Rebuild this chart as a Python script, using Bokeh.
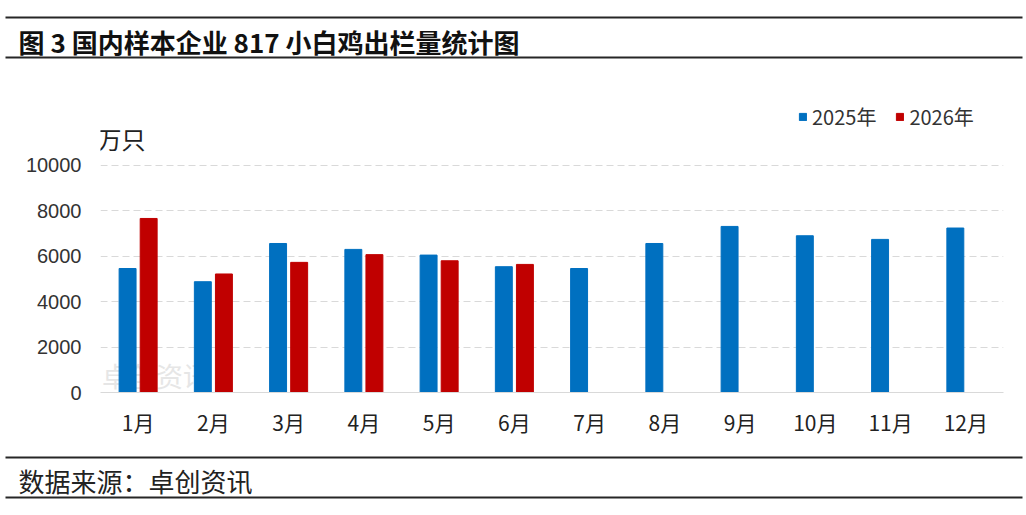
from bokeh.plotting import figure
from bokeh.models import ColumnDataSource, FactorRange, Range1d, FixedTicker, Legend, LegendItem, Label
from bokeh.transform import dodge
from bokeh.layouts import column
from bokeh.embed import file_html
from bokeh.resources import INLINE
from bokeh.core.properties import value

# ---------------- data ----------------
months = ["1月", "2月", "3月", "4月", "5月", "6月", "7月", "8月", "9月", "10月", "11月", "12月"]
sales_2025 = [5450, 4870, 6550, 6290, 6040, 5530, 5450, 6550, 7300, 6890, 6730, 7230]
months_2026 = ["1月", "2月", "3月", "4月", "5月", "6月"]
sales_2026 = [7650, 5210, 5720, 6060, 5790, 5630]
y_ticks = [0, 2000, 4000, 6000, 8000, 10000]
series_names = ["2025年", "2026年"]
unit_label = "万只"
title_text = "图 3 国内样本企业 817 小白鸡出栏量统计图"
source_text = "数据来源：卓创资讯"

# ---------------- styling ----------------
W = 1026
CJK = "Noto Sans CJK SC"
BLUE = "#0070C0"
RED = "#C00000"
RULE = "#262626"


def panel(height):
    f = figure(width=W, height=height, x_range=Range1d(0, W), y_range=Range1d(height, 0),
               output_backend="svg", toolbar_location=None, min_border=0,
               x_axis_location=None, y_axis_location=None, frame_align=False)
    f.grid.visible = False
    f.outline_line_color = None
    return f


# ---------------- header ----------------
HH = 65
hdr = panel(HH)
hdr.segment(x0=[5, 5], y0=[17, 57], x1=[1022, 1022], y1=[17, 57], line_width=2, line_color=RULE)
hdr.text(x=[18], y=[41], text=[title_text], text_font=value(CJK), text_font_style="bold",
         text_font_size="26px", text_baseline="middle", text_align="left", text_color="#111111")

# ---------------- main chart ----------------
MH = 387
BT, BB = 30, 60
frame_h = MH - BT - BB
px_10000 = 227.5
ymax = 10000 * frame_h / px_10000
per_px = ymax / frame_h

p = figure(width=W, height=MH, x_range=FactorRange(factors=months, range_padding=0),
           y_range=Range1d(0, ymax), output_backend="svg", toolbar_location=None,
           min_border_left=100, min_border_right=W - 1003, min_border_top=BT, min_border_bottom=BB,
           frame_align=False)
p.outline_line_color = None

# faint watermark (behind the bars)
p.add_layout(Label(x=0.02, y=17 * per_px, text="卓创资讯", text_font=CJK, text_font_size="27px",
                   text_baseline="middle", text_color="#e6e6e6", level="underlay"))

src25 = ColumnDataSource(dict(month=months, v=sales_2025))
src26 = ColumnDataSource(dict(month=months_2026, v=sales_2026))
r1 = p.vbar(x=dodge("month", -0.14, range=p.x_range), top="v", width=0.225, source=src25,
            fill_color=BLUE, line_color=BLUE)
r2 = p.vbar(x=dodge("month", 0.14, range=p.x_range), top="v", width=0.225, source=src26,
            fill_color=RED, line_color=RED)

p.xgrid.grid_line_color = None
p.ygrid.ticker = FixedTicker(ticks=y_ticks)
p.ygrid.grid_line_color = "#d9d9d9"
p.ygrid.grid_line_dash = "7 4"
p.ygrid.grid_line_width = 1

p.yaxis.ticker = FixedTicker(ticks=y_ticks)
p.yaxis.axis_line_color = None
p.yaxis.major_tick_line_color = None
p.yaxis.minor_tick_line_color = None
p.yaxis.major_tick_out = 0
p.yaxis.major_tick_in = 0
p.yaxis.major_label_standoff = 19
p.yaxis.major_label_text_font = "Liberation Sans"
p.yaxis.major_label_text_font_size = "20px"
p.yaxis.major_label_text_color = "#333333"

p.xaxis.axis_line_color = "#d9d9d9"
p.xaxis.axis_line_width = 1
p.xaxis.major_tick_line_color = None
p.xaxis.minor_tick_line_color = None
p.xaxis.major_tick_out = 0
p.xaxis.major_tick_in = 0
p.xaxis.major_label_standoff = 14
p.xaxis.major_label_text_font = CJK
p.xaxis.major_label_text_font_size = "21px"
p.xaxis.major_label_text_color = "#222222"

legend = Legend(items=[LegendItem(label=series_names[0], renderers=[r1]),
                       LegendItem(label=series_names[1], renderers=[r2])],
                orientation="horizontal", location=(698, 261), padding=0, margin=0,
                spacing=19, label_standoff=5, glyph_width=9, glyph_height=9,
                border_line_color=None, background_fill_alpha=0,
                label_text_font=CJK, label_text_font_size="20px", label_text_color="#333333")
p.add_layout(legend)

p.add_layout(Label(x=-0.04, y=254 * per_px, text=unit_label,
                   text_font=CJK, text_font_size="24px", text_baseline="middle",
                   text_color="#222222"))

# ---------------- footer ----------------
FH = 63
ftr = panel(FH)
ftr.segment(x0=[5, 5], y0=[5, 45], x1=[1022, 1022], y1=[5, 45], line_width=2, line_color=RULE)
ftr.text(x=[18], y=[28], text=[source_text], text_font=value(CJK), text_font_size="26px",
         text_baseline="middle", text_align="left", text_color="#222222")

layout = column(hdr, p, ftr, spacing=0)
open("out.html", "w").write(file_html(layout, INLINE))
